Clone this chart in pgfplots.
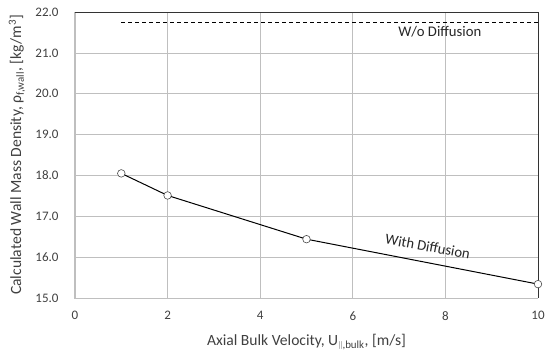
\documentclass[border=0pt]{standalone}
\usepackage{fontspec}
\setmainfont{Carlito}
\usepackage{pgfplots}
\pgfplotsset{compat=1.18}
\definecolor{txt}{HTML}{404040}
\definecolor{grid}{HTML}{E3E3E3}
\definecolor{axgray}{HTML}{BFBFBF}
\newcommand{\fs}{\fontsize{13}{16}\selectfont}
\newcommand{\fl}{\fontsize{15.6}{18}\selectfont}
\newcommand{\fa}{\fontsize{14.7}{17}\selectfont}
\begin{document}
\fs
\begin{tikzpicture}
\begin{axis}[
  name=ax,
  scale only axis,
  width=463pt, height=286pt,
  xmin=0, xmax=10, ymin=15, ymax=22,
  xtick={0,2,4,6,8,10},
  ytick={15,16,17,18,19,20,21,22},
  major tick length=0pt,
  xmajorgrids, ymajorgrids,
  grid style={grid, line width=0.7pt},
  axis line style={draw=none},
  /pgf/number format/assume math mode=true,
  yticklabel style={/pgf/number format/fixed, /pgf/number format/fixed zerofill, /pgf/number format/precision=1, text=txt, font=\fs, xshift=-12pt},
  xticklabel style={text=txt, font=\fs, yshift=-9pt},
  xticklabel={\pgfmathprintnumber[fixed,precision=0]{\tick}},
  xlabel={Axial Bulk Velocity, U\textsubscript{\raisebox{0.1ex}{$\scriptstyle\parallel$},bulk}, [m/s]},
  ylabel={Calculated Wall Mass Density, ρ\textsubscript{f,wall}, [kg/m\textsuperscript{3}]},
  label style={text=txt, font=\fl},
  xlabel style={at={(axis description cs:0.5,0)}, anchor=center, yshift=-44pt},
  ylabel style={at={(axis description cs:0,0.5)}, anchor=center, yshift=58pt},
  clip=false,
]
\draw[axgray, line width=1pt] (rel axis cs:0,1) -- (rel axis cs:0,0) -- (rel axis cs:1,0);
\draw[black!80, line width=1pt] (rel axis cs:0,1) -- (rel axis cs:1,1) -- (rel axis cs:1,0);
\addplot[black, line width=0.9pt, dashed, dash pattern=on 4pt off 3pt] coordinates {(1,21.75) (10,21.75)};
\addplot[black, line width=1pt, mark=*, mark size=3.8pt, mark options={fill=white, draw=black!70, line width=0.6pt}]
  coordinates {(1,18.05) (2,17.51) (5,16.44) (10,15.34)};
\node[text=black!85, font=\fa] at (axis cs:7.88,21.51) {W/o Diffusion};
\node[text=black!85, font=\fa, rotate=-10.5] at (axis cs:7.62,16.26) {With Diffusion};
\end{axis}
\pgfresetboundingbox
\path[use as bounding box] ([shift={(-75pt,-56pt)}]ax.south west) rectangle ([shift={(7pt,12pt)}]ax.north east);
\end{tikzpicture}
\end{document}
